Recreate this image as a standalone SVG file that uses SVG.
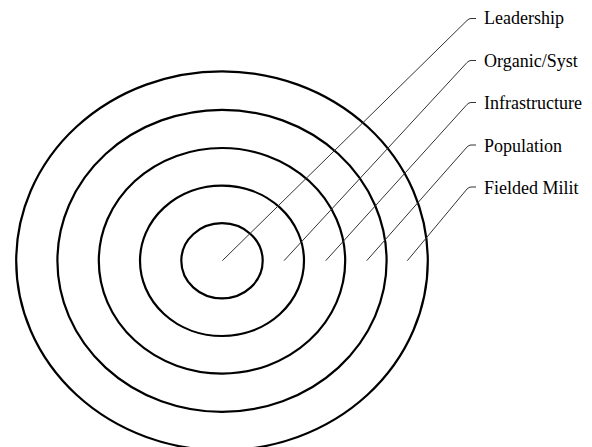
<svg xmlns="http://www.w3.org/2000/svg" width="592" height="447" viewBox="0 0 592 447">
<style>
.ring{fill:none;stroke:#000;stroke-width:2.2}
.lead{fill:none;stroke:#333;stroke-width:1}
.lbl{font-family:"Liberation Serif","Times New Roman",serif;font-size:18px;fill:#000}
</style>
<rect width="592" height="447" fill="#fff"/>
<g id="rings">
<ellipse id="ring-leadership" class="ring" cx="222" cy="260.8" rx="40.7" ry="37.6"/>
<ellipse id="ring-organic" class="ring" cx="222" cy="260.8" rx="82" ry="75.2"/>
<ellipse id="ring-infrastructure" class="ring" cx="222" cy="260.8" rx="123.2" ry="112.8"/>
<ellipse id="ring-population" class="ring" cx="222" cy="260.8" rx="164.6" ry="151"/>
<ellipse id="ring-military" class="ring" cx="222" cy="260.8" rx="205.8" ry="189.5"/>
</g>
<g id="connectors">
<path class="lead" d="M222.3,260.7 L467,20.5 Q469,18.5 471,18.5 L476,18.5"/>
<path class="lead" d="M284,260.7 L467,62.5 Q469,60.5 471,60.5 L476,60.5"/>
<path class="lead" d="M325.7,260.7 L467,104.5 Q469,102.5 471,102.5 L476,102.5"/>
<path class="lead" d="M366.7,260.7 L467,147 Q469,145 471,145 L476,145"/>
<path class="lead" d="M407.3,260.7 L467,189 Q469,187 471,187 L476,187"/>
</g>
<g id="labels">
<text id="label-leadership" class="lbl" x="484" y="24">Leadership</text>
<text id="label-organic" class="lbl" x="484" y="66.5">Organic/Syst</text>
<text id="label-infrastructure" class="lbl" x="484" y="109">Infrastructure</text>
<text id="label-population" class="lbl" x="484" y="151.5">Population</text>
<text id="label-military" class="lbl" x="484" y="193.5">Fielded Milit</text>
</g>
</svg>
